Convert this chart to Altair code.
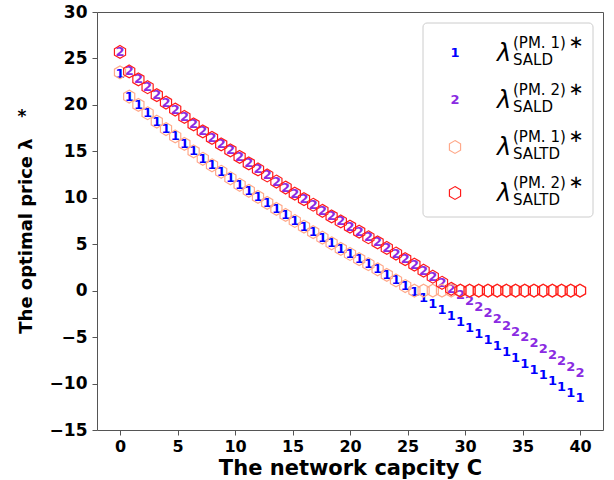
import altair as alt
import pandas as pd

# Network capacity C (x grid)
capacity = [0.0, 0.8, 1.6, 2.4, 3.2, 4.0, 4.8, 5.6, 6.4, 7.2, 8.0, 8.8, 9.6, 10.4, 11.2,
            12.0, 12.8, 13.6, 14.4, 15.2, 16.0, 16.8, 17.6, 18.4, 19.2, 20.0, 20.8, 21.6,
            22.4, 23.2, 24.0, 24.8, 25.6, 26.4, 27.2, 28.0, 28.8, 29.6, 30.4, 31.2, 32.0,
            32.8, 33.6, 34.4, 35.2, 36.0, 36.8, 37.6, 38.4, 39.2, 40.0]

sald_pm1 = [23.3, 20.9, 20.0, 19.1, 18.2, 17.4, 16.6, 15.8, 15.0, 14.2, 13.5, 12.8, 12.1,
            11.4, 10.75, 10.1, 9.45, 8.8, 8.15, 7.5, 6.9, 6.3, 5.7, 5.1, 4.5, 3.95, 3.4,
            2.85, 2.3, 1.7, 1.1, 0.5, -0.1, -0.75, -1.4, -2.05, -2.7, -3.35, -4.0, -4.65,
            -5.3, -5.95, -6.6, -7.25, -7.85, -8.5, -9.1, -9.75, -10.35, -11.0, -11.6]

sald_pm2 = [25.7, 23.6, 22.75, 21.9, 21.05, 20.25, 19.5, 18.7, 17.9, 17.15, 16.45, 15.75,
            15.1, 14.4, 13.7, 13.05, 12.4, 11.75, 11.1, 10.45, 9.85, 9.25, 8.6, 8.0, 7.45,
            6.9, 6.35, 5.75, 5.2, 4.6, 4.0, 3.4, 2.8, 2.15, 1.5, 0.85, 0.2, -0.5, -1.15,
            -1.8, -2.45, -3.1, -3.75, -4.4, -5.0, -5.65, -6.3, -6.95, -7.6, -8.25, -8.9]

saltd_pm1 = [23.5, 20.9, 20.0, 19.1, 18.2, 17.4, 16.6, 15.8, 15.0, 14.2, 13.5, 12.8, 12.1,
             11.4, 10.75, 10.1, 9.45, 8.8, 8.15, 7.5, 6.9, 6.3, 5.7, 5.1, 4.5, 3.95, 3.4,
             2.85, 2.3, 1.7, 1.1, 0.5, 0.0, 0.0, 0.0, 0.0, 0.0, 0.0, 0.0, 0.0, 0.0, 0.0,
             0.0, 0.0, 0.0, 0.0, 0.0, 0.0, 0.0, 0.0, 0.0]

saltd_pm2 = [25.7, 23.6, 22.75, 21.9, 21.05, 20.25, 19.5, 18.7, 17.9, 17.15, 16.45, 15.75,
             15.1, 14.4, 13.7, 13.05, 12.4, 11.75, 11.1, 10.45, 9.85, 9.25, 8.6, 8.0, 7.45,
             6.9, 6.35, 5.75, 5.2, 4.6, 4.0, 3.4, 2.8, 2.15, 1.5, 0.85, 0.2, 0.0, 0.0, 0.0,
             0.0, 0.0, 0.0, 0.0, 0.0, 0.0, 0.0, 0.0, 0.0, 0.0, 0.0]

x_ticks = [0, 5, 10, 15, 20, 25, 30, 35, 40]
y_ticks = [-15, -10, -5, 0, 5, 10, 15, 20, 25, 30]

BLUE = "#0000ff"
PURPLE = "#8a2be2"
SALMON = "#ffa98a"
RED = "#ff1a1a"
HEX = "M0,-1L0.866,-0.5L0.866,0.5L0,1L-0.866,0.5L-0.866,-0.5Z"
FONT = "DejaVu Sans"


def frame(vals):
    return pd.DataFrame({"C": capacity, "v": vals})


xenc = alt.X("C:Q", scale=alt.Scale(domain=[-2, 42], nice=False, zero=False),
             axis=alt.Axis(values=x_ticks, title="The network capcity C", format="d"))
yenc = alt.Y("v:Q", scale=alt.Scale(domain=[-15, 30], nice=False, zero=False),
             axis=alt.Axis(values=y_ticks, title=None, format="d"))

l1 = alt.Chart(frame(sald_pm1)).mark_text(
    text="1", color=BLUE, fontSize=13, fontWeight="bold", font=FONT,
    align="center", baseline="middle").encode(x=xenc, y=yenc)
l2 = alt.Chart(frame(sald_pm2)).mark_text(
    text="2", color=PURPLE, fontSize=13, fontWeight="bold", font=FONT,
    align="center", baseline="middle").encode(x=xenc, y=yenc)
l3 = alt.Chart(frame(saltd_pm1)).mark_point(
    shape=HEX, size=165, filled=False, stroke=SALMON, strokeWidth=1.2,
    opacity=1).encode(x=xenc, y=yenc)
l4 = alt.Chart(frame(saltd_pm2)).mark_point(
    shape=HEX, size=165, filled=False, stroke=RED, strokeWidth=1.2,
    opacity=1).encode(x=xenc, y=yenc)

one = pd.DataFrame({"k": [0]})
layers = [l1, l2, l3, l4]

# legend frame
layers.append(alt.Chart(one).mark_rect(
    fill="white", fillOpacity=0.8, stroke="#cccccc", strokeWidth=1, cornerRadius=4
).encode(x=alt.value(326), x2=alt.value(496), y=alt.value(11), y2=alt.value(205)))

entries = [("1", "(PM. 1)", "SALD"), ("2", "(PM. 2)", "SALD"),
           ("h1", "(PM. 1)", "SALTD"), ("h2", "(PM. 2)", "SALTD")]
rows = [41, 88, 135, 181]
for (sym, sup, sub), cy in zip(entries, rows):
    if sym == "1":
        layers.append(alt.Chart(one).mark_text(text="1", color=BLUE, fontSize=13,
                      fontWeight="bold", font=FONT, baseline="middle")
                      .encode(x=alt.value(358), y=alt.value(cy)))
    elif sym == "2":
        layers.append(alt.Chart(one).mark_text(text="2", color=PURPLE, fontSize=13,
                      fontWeight="bold", font=FONT, baseline="middle")
                      .encode(x=alt.value(358), y=alt.value(cy)))
    else:
        layers.append(alt.Chart(one).mark_point(shape=HEX, size=165, filled=False,
                      stroke=SALMON if sym == "h1" else RED, strokeWidth=1.2, opacity=1)
                      .encode(x=alt.value(358), y=alt.value(cy)))
    layers.append(alt.Chart(one).mark_text(text="λ", fontSize=24, fontStyle="italic",
                  font=FONT, color="black", baseline="middle", align="center")
                  .encode(x=alt.value(407), y=alt.value(cy + 1)))
    layers.append(alt.Chart(one).mark_text(text=sup, fontSize=15, font=FONT,
                  color="black", baseline="middle", align="left")
                  .encode(x=alt.value(416), y=alt.value(cy - 10)))
    layers.append(alt.Chart(one).mark_text(text="∗", fontSize=18, font=FONT,
                  color="black", baseline="middle", align="center")
                  .encode(x=alt.value(479), y=alt.value(cy - 10)))
    layers.append(alt.Chart(one).mark_text(text=sub, fontSize=15, font=FONT,
                  color="black", baseline="middle", align="left")
                  .encode(x=alt.value(416), y=alt.value(cy + 7)))

# y-axis title with superscript star
layers.append(alt.Chart(one).mark_text(text="The optimal price λ", fontSize=18,
              fontWeight="bold", font=FONT, angle=270, align="center",
              baseline="middle", color="black")
              .encode(x=alt.value(-70), y=alt.value(224)))
layers.append(alt.Chart(one).mark_text(text="*", fontSize=17, fontWeight="bold",
              font=FONT, align="center", baseline="middle", color="black")
              .encode(x=alt.value(-75), y=alt.value(105)))

chart = alt.layer(*layers).properties(
    width=506, height=418,
    autosize=alt.AutoSizeParams(type="none"),
    padding={"left": 97, "top": 12, "right": 11, "bottom": 50},
).configure_view(stroke="#555555", strokeWidth=1).configure_axis(
    domain=False, grid=False, ticks=True, tickSize=5, tickColor="#555555",
    labelFont=FONT, labelFontSize=16, labelFontWeight="bold", labelColor="black",
    labelPadding=3, titleFont=FONT, titleFontSize=21, titleFontWeight="bold",
    titleColor="black", titlePadding=3
).configure_axisY(labelPadding=5, labelFontSize=17)

chart.save("out.html", embed_options={"renderer": "svg", "actions": False})
